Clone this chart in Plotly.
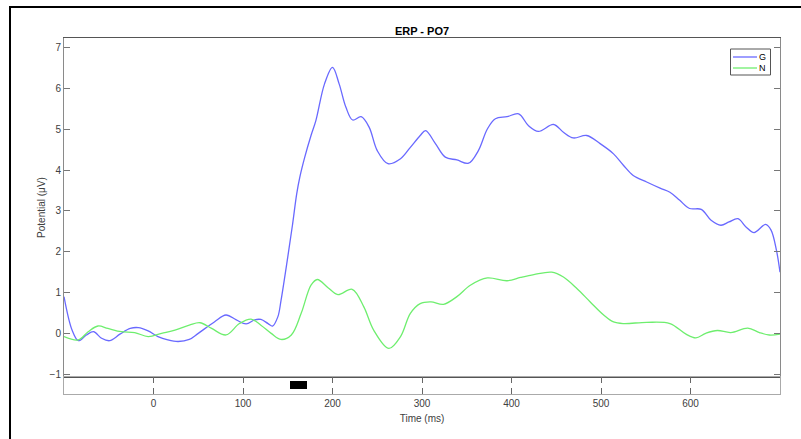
import plotly.graph_objects as go

# ---- data ----
time_g = [-100, -91, -84, -75, -67, -58, -49, -37.5, -26, -17, -6, 5, 16, 27.5, 40, 50, 68, 81, 92.5,
          103.5, 113, 120, 128, 133, 139, 142.5, 150, 155.5, 160, 163.5, 169, 176, 181.5, 191, 200,
          207.5, 215, 222.5, 232, 241, 250, 262, 276, 287, 298, 304, 315, 326, 339, 352, 363, 373,
          382, 395, 408, 419, 430, 447, 458, 469, 484, 499, 514, 525, 536, 551, 566, 577, 588, 599,
          612, 623, 634, 643, 653, 662, 671, 684, 690, 696, 700]
erp_g = [0.9, 0.08, -0.18, -0.04, 0.04, -0.12, -0.18, -0.02, 0.12, 0.14, 0.06, -0.08, -0.16, -0.2,
         -0.15, 0.0, 0.28, 0.45, 0.33, 0.23, 0.33, 0.34, 0.24, 0.18, 0.41, 0.81, 1.87, 2.69, 3.42,
         3.83, 4.32, 4.85, 5.22, 6.11, 6.52, 6.11, 5.54, 5.23, 5.31, 5.05, 4.48, 4.16, 4.28, 4.56,
         4.85, 4.97, 4.65, 4.32, 4.25, 4.17, 4.48, 5.01, 5.26, 5.31, 5.38, 5.09, 4.95, 5.12, 4.93,
         4.79, 4.85, 4.65, 4.40, 4.12, 3.87, 3.71, 3.56, 3.46, 3.26, 3.06, 3.04, 2.77, 2.65, 2.73,
         2.81, 2.61, 2.47, 2.67, 2.53, 2.04, 1.5]

time_n = [-100, -84, -73, -62, -51, -36, -21, -6, 9, 24, 40, 52, 65, 81, 96, 109, 120, 131.5, 142.5,
          154, 165, 176, 183, 195, 206, 222, 235, 246, 263, 276, 287, 298, 310, 324, 339, 354, 373,
          395, 410, 425, 445, 458, 473, 488, 503, 514, 525, 551, 577, 595, 606, 617, 630, 645, 664,
          677, 688, 700]
erp_n = [-0.08, -0.16, 0.04, 0.18, 0.12, 0.04, 0.02, -0.08, 0.0, 0.08, 0.2, 0.26, 0.12, -0.04, 0.24,
         0.35, 0.20, 0.0, -0.15, -0.04, 0.49, 1.18, 1.32, 1.12, 0.95, 1.08, 0.65, 0.08, -0.37, -0.08,
         0.49, 0.73, 0.77, 0.71, 0.90, 1.18, 1.36, 1.29, 1.37, 1.44, 1.50, 1.38, 1.10, 0.77, 0.45,
         0.28, 0.24, 0.27, 0.24, -0.02, -0.11, 0.0, 0.07, 0.02, 0.13, 0.02, -0.04, -0.02]

series_names = ["G", "N"]
series_colors = ["rgb(105,105,255)", "rgb(110,238,110)"]
stim_window = [152, 172]          # ms, black marker in the strip
x_ticks = [0, 100, 200, 300, 400, 500, 600]
y_ticks = [-1, 0, 1, 2, 3, 4, 5, 6, 7]

# ---- figure ----
FONT = "Liberation Sans, Arial, sans-serif"
AX = "#8a8a8a"
TXT = "#404040"
L, R, T, B = 64, 21, 38, 45
W, H = 801, 439
PW, PH = W - L - R, H - T - B
strip = 17 / PH


def px(xp):
    return (xp - L) / PW


def py(yp):
    return (H - B - yp) / PH


fig = go.Figure()
for t, v, nm, col in zip([time_g, time_n], [erp_g, erp_n], series_names, series_colors):
    fig.add_trace(go.Scatter(x=t, y=v, name=nm, mode="lines", line_shape="spline",
                             line=dict(color=col, width=1.3), xaxis="x", yaxis="y",
                             showlegend=False))
fig.add_trace(go.Bar(x=[(stim_window[0] + stim_window[1]) / 2],
                     width=[stim_window[1] - stim_window[0]], y=[0.5], base=[0.28],
                     marker=dict(color="black", line_width=0), showlegend=False,
                     xaxis="x2", yaxis="y2", hoverinfo="skip"))

fig.update_layout(
    width=W, height=H,
    margin=dict(l=L, r=R, t=T, b=B),
    paper_bgcolor="white", plot_bgcolor="white",
    font=dict(family=FONT, size=10, color=TXT),
    title=dict(text="<b>ERP - PO7</b>", x=(L + PW / 2) / W, xanchor="center",
               y=1 - 31 / H, yanchor="middle", font=dict(size=11, color="black")),
    xaxis=dict(domain=[0, 1], anchor="y", range=[-100, 700], showline=True, mirror=True,
               linecolor="#555555", linewidth=1, showticklabels=False, ticks="",
               showgrid=False, zeroline=False),
    xaxis2=dict(domain=[0, 1], anchor="y2", matches="x", range=[-100, 700], showline=True,
                mirror="ticks", linecolor="#aaaaaa", linewidth=1, ticks="inside", ticklen=6,
                tickcolor="#666666", tickvals=x_ticks, showgrid=False, zeroline=False,
                tickfont=dict(size=10, color=TXT),
                title=dict(text="Time (ms)", standoff=6, font=dict(size=10, color=TXT))),
    yaxis=dict(domain=[strip, 1], anchor="x", range=[-1.07, 7.24], showline=True, mirror="ticks",
               linecolor=AX, linewidth=1, ticks="inside", ticklen=6, tickcolor="#777777",
               tickvals=y_ticks, showgrid=False, zeroline=False,
               tickfont=dict(size=10, color=TXT),
               title=dict(text="Potential (μV)", standoff=2, font=dict(size=10, color=TXT))),
    yaxis2=dict(domain=[0, strip], anchor="x2", range=[0, 1], showline=True, mirror=True,
                linecolor="#aaaaaa", linewidth=1, showticklabels=False, ticks="",
                showgrid=False, zeroline=False, fixedrange=True),
    bargap=0,
)

# outer figure frame (starts left/top, runs off the right and bottom of the picture)
fig.add_shape(type="rect", xref="paper", yref="paper",
              x0=px(10), x1=1.2, y0=-0.3, y1=py(7),
              line=dict(color="black", width=2), fillcolor="rgba(0,0,0,0)", layer="below")

# compact MATLAB-style legend box
fig.add_shape(type="rect", xref="paper", yref="paper",
              x0=px(730.5), x1=px(770.5), y0=py(75), y1=py(49),
              line=dict(color="#555555", width=1), fillcolor="white", layer="above")
for i, (nm, col) in enumerate(zip(series_names, series_colors)):
    yy = 57 + 11 * i
    fig.add_shape(type="line", xref="paper", yref="paper",
                  x0=px(733), x1=px(757), y0=py(yy), y1=py(yy),
                  line=dict(color=col, width=1.3), layer="above")
    fig.add_annotation(xref="paper", yref="paper", x=px(767.5), y=py(yy), text=nm,
                       showarrow=False, xanchor="right", yanchor="middle",
                       font=dict(size=9, color="black"))

fig.write_html("out.html")
